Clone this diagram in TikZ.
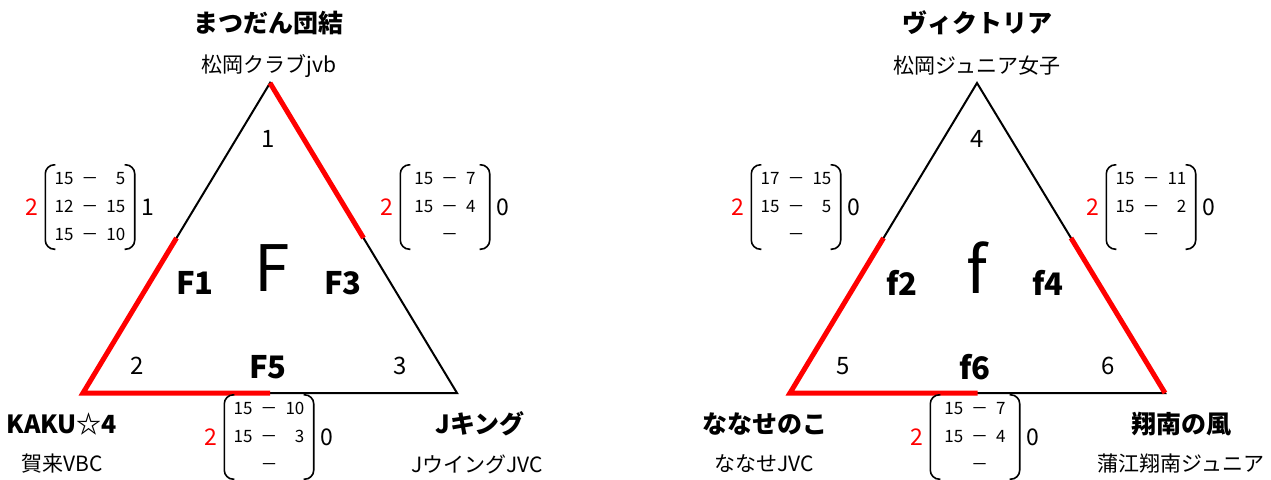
\documentclass[tikz,border=0pt]{standalone}
\usepackage{fontspec}
\setmainfont{Noto Sans CJK JP}
\usetikzlibrary{calc}

% score sheet between two teams: name, centre, three rows, sets won, sets lost
\newcommand{\scorebox}[7]{%
  \node [score] (#1) at #2
        {\begin{tabular}{@{}l@{\hspace{8pt}}c@{\hspace{8pt}}r@{}}#3\\#4\\#5\end{tabular}};
  \draw [bracket] ([xshift=10pt]#1.north west) -- (#1.north west)
        -- (#1.south west) -- ([xshift=10pt]#1.south west);
  \draw [bracket] ([xshift=-10pt]#1.north east) -- (#1.north east)
        -- (#1.south east) -- ([xshift=-10pt]#1.south east);
  \node [sets, text=red, anchor=east, xshift=-7pt] (#1-w) at (#1.west) {#6};
  \node [sets, anchor=west, xshift=7pt] (#1-l) at (#1.east) {#7};
}

\begin{document}
\begin{tikzpicture}[x=1pt, y=-1pt,
    edge/.style={line width=2pt, line join=miter},
    win/.style={line width=5pt, red},
    team/.style={font=\bfseries\fontsize{25}{30}\selectfont, inner sep=0pt},
    club/.style={font=\fontsize{21}{25}\selectfont, inner sep=0pt},
    seed/.style={font=\fontsize{24}{28}\selectfont, inner sep=0pt},
    group/.style={font=\fontsize{64}{70}\selectfont, inner sep=0pt},
    match/.style={font=\bfseries\fontsize{31}{36}\selectfont, inner sep=0pt},
    score/.style={minimum width=89pt, minimum height=84pt, inner sep=0pt,
                  font=\fontsize{17}{28}\selectfont},
    bracket/.style={line width=1.6pt, rounded corners=9pt},
    sets/.style={font=\fontsize{23}{27}\selectfont, inner sep=0pt}]
  \useasboundingbox (0, 0) rectangle (1271, 479);

  % Group F
  \coordinate (F-top) at (270, 83);
  \coordinate (F-left) at (83, 393);
  \coordinate (F-right) at (457, 393);
  \draw [edge] (F-top) -- (F-left) -- (F-right) -- cycle;
  \draw [win] ($(F-left)!0.5!(F-top)$) -- (F-left) -- ($(F-left)!0.5!(F-right)$);
  \draw [win] (F-top) -- ($(F-top)!0.5!(F-right)$);

  \node [team] (F-t1) at (268, 23) {まつだん団結};
  \node [club] (F-c1) at (269, 66) {松岡クラブjvb};
  \node [team] (F-t2) at (62, 424) {KAKU☆4};
  \node [club] (F-c2) at (62, 464) {賀来VBC};
  \node [team] (F-t3) at (480, 424) {Jキング};
  \node [club] (F-c3) at (477, 464) {JウイングJVC};

  \node [seed] (F-s1) at (268, 139) {1};
  \node [seed] (F-s2) at (137, 366) {2};
  \node [seed] (F-s3) at (400, 366) {3};
  \node [group] (F) at (272, 268) {F};
  \node [match] (F1) at (195, 283) {F1};
  \node [match] (F3) at (343, 283) {F3};
  \node [match] (F5) at (268, 367) {F5};

  \scorebox{F1-sc}{(90, 207)}{15 & － & 5}{12 & － & 15}{15 & － & 10}{2}{1}
  \scorebox{F3-sc}{(445, 207)}{15 & － & 7}{15 & － & 4}{ & － & }{2}{0}
  \scorebox{F5-sc}{(269, 437)}{15 & － & 10}{15 & － & 3}{ & － & }{2}{0}

  % Group f
  \coordinate (f-top) at (977, 83);
  \coordinate (f-left) at (790, 393);
  \coordinate (f-right) at (1165, 393);
  \draw [edge] (f-top) -- (f-left) -- (f-right) -- cycle;
  \draw [win] ($(f-left)!0.5!(f-top)$) -- (f-left) -- ($(f-left)!0.5!(f-right)$);
  \draw [win] (f-right) -- ($(f-right)!0.5!(f-top)$);

  \node [team] (f-t1) at (977, 23) {ヴィクトリア};
  \node [club] (f-c1) at (977, 66) {松岡ジュニア女子};
  \node [team] (f-t2) at (765, 424) {ななせのこ};
  \node [club] (f-c2) at (764, 464) {ななせJVC};
  \node [team] (f-t3) at (1181, 424) {翔南の風};
  \node [club] (f-c3) at (1181, 464) {蒲江翔南ジュニア};

  \node [seed] (f-s4) at (977, 139) {4};
  \node [seed] (f-s5) at (843, 366) {5};
  \node [seed] (f-s6) at (1108, 366) {6};
  \node [group] (f) at (977, 268) {f};
  \node [match] (f2) at (902, 283) {f2};
  \node [match] (f4) at (1048, 283) {f4};
  \node [match] (f6) at (975, 367) {f6};

  \scorebox{f2-sc}{(796, 207)}{17 & － & 15}{15 & － & 5}{ & － & }{2}{0}
  \scorebox{f4-sc}{(1151, 207)}{15 & － & 11}{15 & － & 2}{ & － & }{2}{0}
  \scorebox{f6-sc}{(975, 437)}{15 & － & 7}{15 & － & 4}{ & － & }{2}{0}
\end{tikzpicture}
\end{document}
